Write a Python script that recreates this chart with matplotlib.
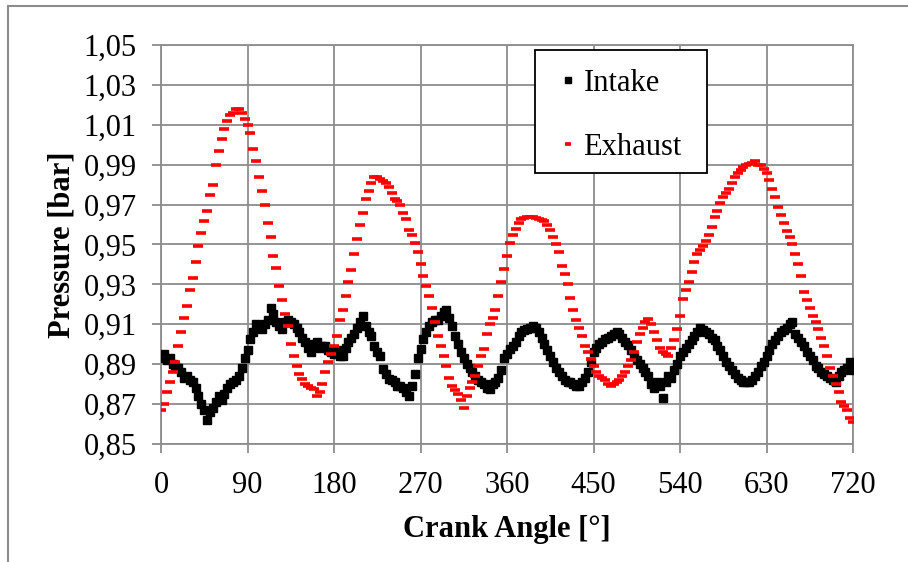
import numpy as np
import matplotlib
matplotlib.use('Agg')
import matplotlib.pyplot as plt
from matplotlib.ticker import FuncFormatter, FixedLocator, MultipleLocator
from matplotlib.lines import Line2D
from matplotlib.patches import Rectangle

# crank angle, every 3 degrees
crank_angle = np.arange(0, 721, 3)

intake = [
    0.893, 0.895, 0.892, 0.893, 0.890, 0.889, 0.888, 0.886, 0.883, 0.884,
    0.882, 0.881, 0.878, 0.874, 0.870, 0.867, 0.862, 0.866, 0.868, 0.871,
    0.874, 0.872, 0.875, 0.878, 0.880, 0.881, 0.882, 0.884, 0.888, 0.893,
    0.897, 0.9025, 0.906, 0.910, 0.908, 0.9075, 0.910, 0.912, 0.918, 0.915,
    0.911, 0.909, 0.9075, 0.911, 0.912, 0.911, 0.910, 0.908, 0.906, 0.903,
    0.901, 0.898, 0.896, 0.900, 0.901, 0.898, 0.899, 0.899, 0.897, 0.896,
    0.895, 0.897, 0.894, 0.894, 0.898, 0.901, 0.903, 0.905, 0.908, 0.911,
    0.914, 0.909, 0.906, 0.904, 0.899, 0.896, 0.894, 0.8875, 0.885, 0.8825,
    0.882, 0.881, 0.879, 0.879, 0.878, 0.876, 0.874, 0.879, 0.885, 0.893,
    0.8975, 0.9025, 0.906, 0.909, 0.911, 0.912, 0.912, 0.914, 0.916, 0.917,
    0.913, 0.909, 0.904, 0.900, 0.896, 0.893, 0.890, 0.888, 0.886, 0.884,
    0.882, 0.881, 0.880, 0.878, 0.8775, 0.880, 0.881, 0.883, 0.887, 0.893,
    0.895, 0.8975, 0.899, 0.901, 0.904, 0.906, 0.907, 0.9075, 0.908, 0.909,
    0.908, 0.906, 0.903, 0.900, 0.897, 0.894, 0.891, 0.888, 0.886, 0.884,
    0.882, 0.881, 0.881, 0.880, 0.879, 0.879, 0.881, 0.883, 0.886, 0.891,
    0.896, 0.898, 0.900, 0.901, 0.9025, 0.903, 0.904, 0.905, 0.906, 0.905,
    0.903, 0.901, 0.8995, 0.897, 0.894, 0.892, 0.890, 0.888, 0.886, 0.884,
    0.880, 0.878, 0.881, 0.879, 0.873, 0.881, 0.884, 0.883, 0.887, 0.890,
    0.894, 0.896, 0.898, 0.900, 0.902, 0.904, 0.906, 0.908, 0.907, 0.906,
    0.905, 0.903, 0.902, 0.899, 0.897, 0.894, 0.891, 0.889, 0.887, 0.885,
    0.883, 0.882, 0.881, 0.881, 0.881, 0.882, 0.884, 0.886, 0.889, 0.891,
    0.894, 0.897, 0.900, 0.902, 0.904, 0.906, 0.907, 0.908, 0.910, 0.911,
    0.905, 0.903, 0.901, 0.899, 0.896, 0.894, 0.892, 0.889, 0.888, 0.886,
    0.885, 0.884, 0.883, 0.882, 0.881, 0.884, 0.886, 0.887, 0.888, 0.891,
    0.887,
]

exhaust = [
    0.867, 0.870, 0.876, 0.881, 0.886, 0.891, 0.899, 0.906, 0.913, 0.919,
    0.927, 0.933, 0.941, 0.949, 0.956, 0.962, 0.967, 0.975, 0.980, 0.990,
    0.997, 1.003, 1.008, 1.012, 1.015, 1.016, 1.018, 1.018, 1.016, 1.013,
    1.010, 1.006, 0.998, 0.992, 0.984, 0.977, 0.970, 0.961, 0.954, 0.944,
    0.938, 0.929, 0.922, 0.915, 0.909, 0.900, 0.894, 0.889, 0.885, 0.8825,
    0.880, 0.879, 0.878, 0.8775, 0.874, 0.876, 0.880, 0.886, 0.891, 0.895,
    0.899, 0.904, 0.912, 0.917, 0.924, 0.931, 0.937, 0.945, 0.953, 0.960,
    0.966, 0.973, 0.977, 0.981, 0.984, 0.984, 0.983, 0.982, 0.981, 0.979,
    0.976, 0.973, 0.972, 0.970, 0.966, 0.963, 0.9575, 0.955, 0.951, 0.946,
    0.940, 0.934, 0.929, 0.924, 0.918, 0.911, 0.904, 0.899, 0.894, 0.889,
    0.883, 0.879, 0.877, 0.875, 0.872, 0.868, 0.874, 0.878, 0.881, 0.884,
    0.889, 0.894, 0.8975, 0.905, 0.910, 0.913, 0.917, 0.924, 0.931, 0.9375,
    0.944, 0.951, 0.955, 0.958, 0.961, 0.963, 0.9635, 0.964, 0.964, 0.964,
    0.9635, 0.963, 0.9625, 0.962, 0.960, 0.9575, 0.954, 0.950, 0.946, 0.939,
    0.935, 0.930, 0.923, 0.917, 0.912, 0.908, 0.904, 0.899, 0.896, 0.8925,
    0.889, 0.886, 0.884, 0.883, 0.882, 0.880, 0.879, 0.880, 0.881, 0.882,
    0.884, 0.886, 0.889, 0.892, 0.896, 0.901, 0.905, 0.908, 0.911, 0.9125,
    0.910, 0.906, 0.902, 0.898, 0.896, 0.895, 0.894, 0.898, 0.902, 0.9075,
    0.914, 0.9225, 0.927, 0.931, 0.936, 0.941, 0.945, 0.947, 0.949, 0.952,
    0.955, 0.959, 0.964, 0.967, 0.971, 0.974, 0.976, 0.978, 0.981, 0.984,
    0.986, 0.9875, 0.989, 0.990, 0.9905, 0.991, 0.992, 0.990, 0.990, 0.988,
    0.986, 0.9825, 0.978, 0.974, 0.969, 0.965, 0.961, 0.957, 0.954, 0.950,
    0.945, 0.940, 0.934, 0.926, 0.922, 0.918, 0.914, 0.911, 0.9075, 0.903,
    0.899, 0.894, 0.888, 0.884, 0.880, 0.876, 0.871, 0.869, 0.867, 0.863,
    0.861,
]

y_ticks = [0.85, 0.87, 0.89, 0.91, 0.93, 0.95, 0.97, 0.99, 1.01, 1.03, 1.05]

grid_grey = '#8c8c8c'
fs = 22

plt.rcParams['font.family'] = ['Liberation Serif', 'DejaVu Serif']

fig = plt.figure(figsize=(9.08, 5.62), dpi=100)
ax = fig.add_axes([161 / 908, 1 - 444 / 562, 692 / 908, 399 / 562])

ax.plot(crank_angle, intake, linestyle='none', marker='s', markersize=5.2,
        color='black', label='Intake', zorder=3)
ax.plot(crank_angle, exhaust, linestyle='none', marker='_', markersize=6.5,
        markeredgewidth=2.6, color='red', label='Exhaust', zorder=4)

ax.set_xlim(0, 720)
ax.set_ylim(0.85, 1.05)
ax.xaxis.set_major_locator(MultipleLocator(90))
ax.yaxis.set_major_locator(FixedLocator(y_ticks))
ax.yaxis.set_major_formatter(FuncFormatter(lambda v, p: f'{v:.2f}'.replace('.', ',')))

ax.grid(True, color=grid_grey, linewidth=1.3)
ax.set_axisbelow(True)
for s in ax.spines.values():
    s.set_color(grid_grey)
    s.set_linewidth(1.3)
ax.tick_params(axis='both', colors=grid_grey, labelcolor='black', length=6.5,
               width=1.3, labelsize=fs)
ax.tick_params(axis='x', pad=13)
ax.tick_params(axis='y', pad=11)

ax.set_xlabel('Crank Angle [°]', fontsize=fs, fontweight='bold', labelpad=11)
ax.set_ylabel('Pressure [bar]', fontsize=fs, fontweight='bold', labelpad=5)

# legend box drawn by hand so the padding can differ in x and y
ax.add_patch(Rectangle(((535 - 161) / 692, (444 - 173) / 399), 172 / 692, 123 / 399,
                       transform=ax.transAxes, facecolor='white', edgecolor='black',
                       linewidth=1.3, zorder=5))
leg = ax.legend(loc='upper left', bbox_to_anchor=((559 - 161) / 692, (444 - 69) / 399),
                fontsize=fs, frameon=False, labelspacing=1.15, handlelength=0.6,
                handletextpad=0.2, borderpad=0, borderaxespad=0, markerscale=0.75)
leg.set_zorder(6)

# outer chart border (cut off at right and bottom)
fig.add_artist(Line2D([8 / 908, 8 / 908], [0, 1 - 6 / 562], color=grid_grey,
                      linewidth=1.5, transform=fig.transFigure))
fig.add_artist(Line2D([8 / 908, 1], [1 - 6 / 562, 1 - 6 / 562], color=grid_grey,
                      linewidth=1.5, transform=fig.transFigure))

fig.savefig('out.png', dpi=100)
